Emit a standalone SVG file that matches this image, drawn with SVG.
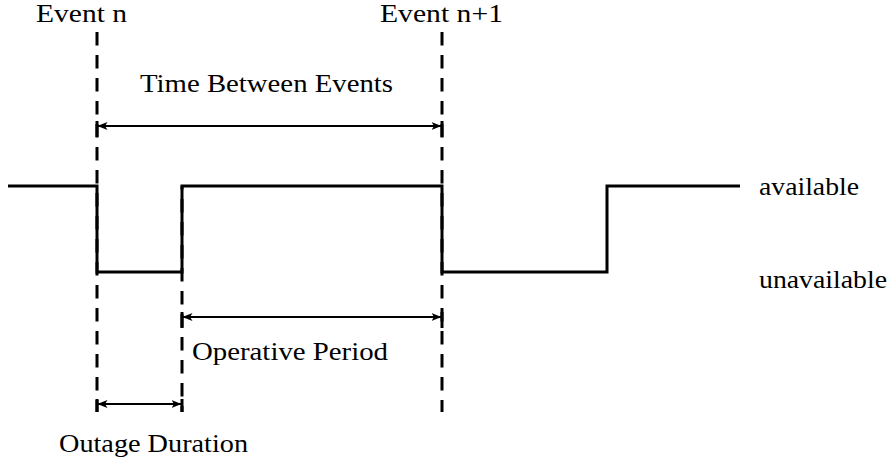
<svg xmlns="http://www.w3.org/2000/svg" width="893" height="463" viewBox="0 0 893 463">
<style>
text{font-family:"Liberation Serif","DejaVu Serif",serif;font-size:25px;fill:#000}
.sig{fill:none;stroke:#000;stroke-width:3;stroke-linejoin:miter}
.dash{fill:none;stroke:#000;stroke-width:3;stroke-dasharray:13.5 9.5}
.arr{fill:none;stroke:#000;stroke-width:2.2;marker-start:url(#ah);marker-end:url(#ah)}
.bar{stroke:#000;stroke-width:3}
</style>
<defs>
<marker id="ah" viewBox="0 0 10 10" refX="9.5" refY="5" markerWidth="10" markerHeight="10" markerUnits="userSpaceOnUse" orient="auto-start-reverse">
<path d="M0,1 L10,5 L0,9 L2.5,5 Z" fill="#000"/>
</marker>
</defs>
<rect width="893" height="463" fill="#fff"/>
<g id="guides">
<line class="dash" x1="97" y1="32" x2="97" y2="412"/>
<line class="dash" x1="182" y1="186" x2="182" y2="412" stroke-dashoffset="10"/>
<line class="dash" x1="442" y1="32" x2="442" y2="412"/>
</g>
<g id="signal">
<path class="sig" d="M8,186 H97 V272 H182 V186 H442 V272 H607 V186 H740"/>
</g>
<g id="connectors">
<line class="arr" x1="98" y1="126" x2="441" y2="126"/>
<line class="bar" x1="97" y1="121" x2="97" y2="137"/>
<line class="bar" x1="442" y1="121" x2="442" y2="137"/>
<line class="arr" x1="183" y1="317" x2="441" y2="317"/>
<line class="bar" x1="182" y1="312" x2="182" y2="328"/>
<line class="bar" x1="442" y1="312" x2="442" y2="328"/>
<line class="arr" x1="98" y1="404" x2="181" y2="404"/>
<line class="bar" x1="97" y1="399" x2="97" y2="412"/>
<line class="bar" x1="182" y1="399" x2="182" y2="412"/>
</g>
<g id="label-event-n"><text x="36" y="22" textLength="91" lengthAdjust="spacingAndGlyphs">Event n</text></g>
<g id="label-event-n1"><text x="380" y="22" textLength="123" lengthAdjust="spacingAndGlyphs">Event n+1</text></g>
<g id="label-tbe"><text x="140" y="92" textLength="253" lengthAdjust="spacingAndGlyphs">Time Between Events</text></g>
<g id="label-available"><text x="759" y="195" textLength="100" lengthAdjust="spacingAndGlyphs">available</text></g>
<g id="label-unavailable"><text x="759" y="288" textLength="128" lengthAdjust="spacingAndGlyphs">unavailable</text></g>
<g id="label-operative"><text x="192" y="360" textLength="196" lengthAdjust="spacingAndGlyphs">Operative Period</text></g>
<g id="label-outage"><text x="59" y="452" textLength="189" lengthAdjust="spacingAndGlyphs">Outage Duration</text></g>
</svg>
